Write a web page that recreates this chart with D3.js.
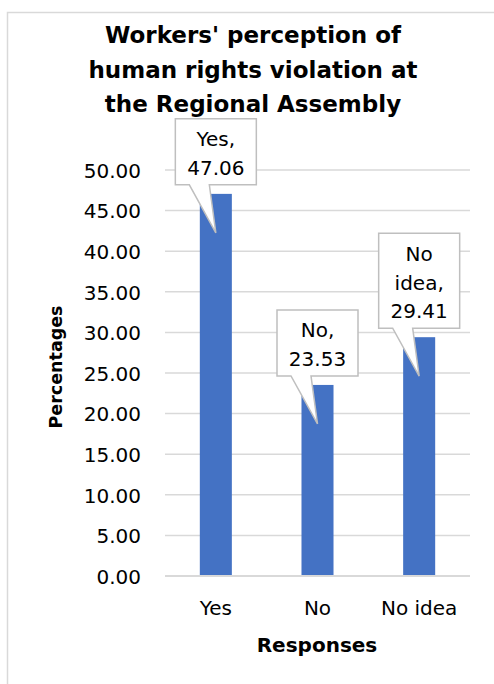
<!DOCTYPE html>
<html>
<head>
<meta charset="utf-8">
<script src="https://cdn.jsdelivr.net/npm/d3@7"></script>
<style>
  body { margin: 0; background: #fff; }
  svg { font-family: "DejaVu Sans", sans-serif; }
</style>
</head>
<body>
<div id="chart"></div>
<script>
// datos del grafico
const categories = ['Yes', 'No', 'No idea'];
const percentages = [47.06, 23.53, 29.41];
const yTicks = [0, 5, 10, 15, 20, 25, 30, 35, 40, 45, 50];
const titleLines = ["Workers' perception of", 'human rights violation at', 'the Regional Assembly'];

const width = 494;
const height = 684;

const svg = d3.select('#chart')
  .append('svg')
  .attr('width', width)
  .attr('height', height);

// marco del grafico
svg.append('rect')
  .attr('x', 7.5)
  .attr('y', 12.5)
  .attr('width', 500)
  .attr('height', 700)
  .attr('fill', 'none')
  .attr('stroke', '#d9d9d9')
  .attr('stroke-width', 1.5);

// escalas
const x = d3.scaleBand()
  .domain(categories)
  .range([165, 470])
  .paddingInner(0.685)
  .paddingOuter(0.3425);

const y = d3.scaleLinear()
  .domain([0, 50])
  .range([576, 170]);

// lineas de la rejilla
svg.append('g')
  .selectAll('line')
  .data(yTicks.filter(d => d > 0))
  .enter().append('line')
  .attr('x1', 165)
  .attr('x2', 470)
  .attr('y1', d => y(d))
  .attr('y2', d => y(d))
  .attr('stroke', '#d9d9d9')
  .attr('stroke-width', 1.5);

// eje Y
const yAxis = d3.axisLeft(y)
  .tickValues(yTicks)
  .tickFormat(d3.format('.2f'))
  .tickSize(0)
  .tickPadding(24);

const groupAxisY = svg.append('g')
  .attr('transform', 'translate(165, 0)')
  .call(yAxis);
groupAxisY.select('.domain').remove();
groupAxisY.selectAll('text')
  .attr('font-size', 20)
  .attr('font-family', '"DejaVu Sans", sans-serif')
  .attr('fill', '#000')
  .attr('dy', '0.36em');

// barras
svg.selectAll('.bar')
  .data(categories)
  .enter().append('rect')
  .attr('class', 'bar')
  .attr('x', d => x(d))
  .attr('width', x.bandwidth())
  .attr('y', (d, i) => y(percentages[i]))
  .attr('height', (d, i) => y(0) - y(percentages[i]))
  .attr('fill', '#4472c4');

// eje X
const xAxis = d3.axisBottom(x).tickSize(0).tickPadding(25);
const groupAxisX = svg.append('g')
  .attr('transform', `translate(0, ${y(0)})`)
  .call(xAxis);
groupAxisX.select('.domain')
  .attr('d', 'M165,0H470')
  .attr('stroke', '#d9d9d9')
  .attr('stroke-width', 2);
groupAxisX.selectAll('text')
  .attr('font-size', 20)
  .attr('font-family', '"DejaVu Sans", sans-serif')
  .attr('fill', '#000');

// etiquetas tipo bocadillo
const boxW = 81;
const lineH = 28.5;
const callouts = svg.append('g');
categories.forEach((c, i) => {
  const words = c.split(' ');
  words[words.length - 1] += ',';
  const lines = words.concat([d3.format('.2f')(percentages[i])]);
  const cx = x(c) + x.bandwidth() / 2;
  const bottom = y(percentages[i]) - 9;
  const boxH = 8 + lines.length * 29;
  const left = cx - boxW / 2;
  const top = bottom - boxH;
  const tipY = y(percentages[i]) + 39;
  const path = d3.path();
  path.moveTo(left, top);
  path.lineTo(left + boxW, top);
  path.lineTo(left + boxW, bottom);
  path.lineTo(left + 34, bottom);
  path.lineTo(cx, tipY);
  path.lineTo(left + 14, bottom);
  path.lineTo(left, bottom);
  path.closePath();
  callouts.append('path')
    .attr('d', path.toString())
    .attr('fill', '#fff')
    .attr('stroke', '#bfbfbf')
    .attr('stroke-width', 1.5);
  callouts.append('g')
    .selectAll('text')
    .data(lines)
    .enter().append('text')
    .attr('x', cx)
    .attr('y', (d, j) => bottom - 10 - (lines.length - 1 - j) * lineH)
    .attr('text-anchor', 'middle')
    .attr('font-size', 20)
    .text(d => d);
});

// titulo
svg.append('g')
  .selectAll('text')
  .data(titleLines)
  .enter().append('text')
  .attr('x', 253)
  .attr('y', (d, i) => 43 + i * 34.5)
  .attr('text-anchor', 'middle')
  .attr('font-size', 23)
  .attr('font-weight', 'bold')
  .text(d => d);

// titulos de los ejes
svg.append('text')
  .attr('x', 317)
  .attr('y', 652)
  .attr('text-anchor', 'middle')
  .attr('font-size', 20)
  .attr('font-weight', 'bold')
  .text('Responses');

svg.append('text')
  .attr('transform', 'translate(62, 367) rotate(-90)')
  .attr('text-anchor', 'middle')
  .attr('font-size', 17.5)
  .attr('font-weight', 'bold')
  .text('Percentages');
</script>
</body>
</html>
